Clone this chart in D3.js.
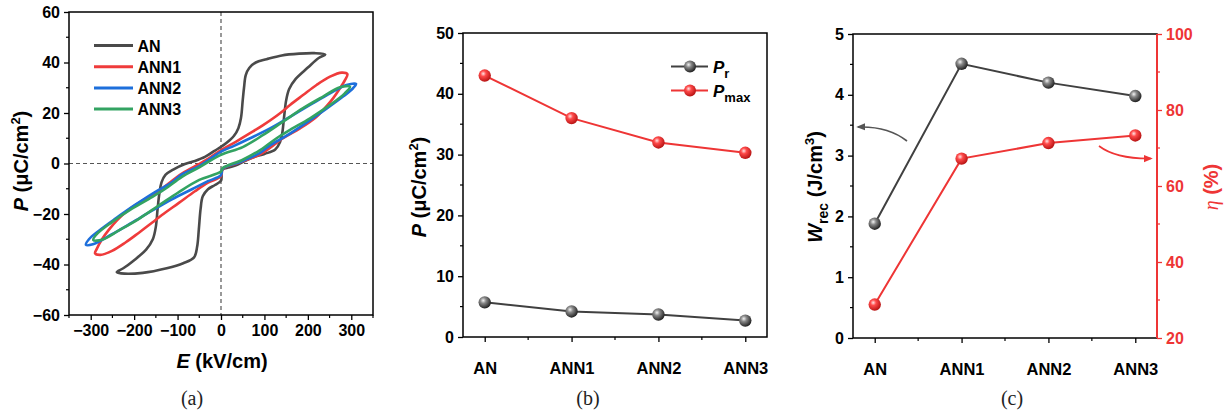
<!DOCTYPE html>
<html>
<head>
<meta charset="utf-8">
<script src="https://cdn.jsdelivr.net/npm/d3@7"></script>
<style>
  body { margin: 0; background: #fff; }
  svg text { font-family: "Liberation Sans", Arial, sans-serif; font-weight: bold; }
  .caption { font-family: "Liberation Serif", "Times New Roman", serif !important; font-weight: normal !important; }
</style>
</head>
<body>
<svg id="fig" width="1227" height="412"></svg>
<script>
// ---- data ----
// panel (a): P-E loops, [E (kV/cm), P (uC/cm2)]
const anLoop = [
  [240,43.2],[215,43.7],[180,43.5],[140,42.8],[105,41.3],[80,40.0],[65,37.8],[57,35],[53,30],[50,25],[46,18],[40,14],[30,11],[13,8.2],[0,6.6],
  [-15,5],[-37,2.6],[-60,1.0],[-83,-0.2],[-110,-2.4],[-128,-4.5],[-137,-7.5],[-142,-12],[-146,-18],[-150,-25],[-157,-30],[-172,-34],[-200,-38.3],[-225,-41.5],[-240,-43.0],
  [-230,-43.5],[-180,-43.3],[-125,-41.5],[-87,-39.5],[-62,-37.2],[-55,-33],[-51,-26],[-47,-18],[-42,-13],[-30,-10.2],[-14,-8.5],[0,-6.8],
  [3,-2.4],[20,-1.5],[40,-0.3],[70,2.2],[100,3.8],[125,5.5],[136,8.5],[141,12],[145,18],[150,25],[157,29.5],[172,33.5],[200,38],[225,41.8]
];
const ann1Loop = [
  [291,35.4],[278,36.0],[251,34.4],[220,31.1],[189,27.1],[159,23.2],[136,19.9],[97,15.2],[67,12.0],[35,8.7],[0,5.3],
  [-40,0.8],[-90,-4.0],[-143,-10.8],[-182,-14.8],[-216,-18.8],[-239,-22.4],[-258,-26.2],[-274,-30.0],[-286,-33.8],[-290,-35.6],
  [-278,-36.2],[-251,-34.6],[-220,-31.3],[-189,-27.4],[-159,-23.5],[-136,-20.4],[-97,-15.6],[-60,-11.0],[-30,-7.6],[0,-5.0],
  [4,-2.2],[40,0.3],[90,3.6],[143,10],[182,13.9],[216,17.9],[239,21.9],[258,25.8],[274,29.8],[286,33.2]
];
const ann2Loop = [
  [311,31.5],[289,31.1],[251,27.8],[205,23.2],[159,18.5],[113,13.9],[67,10.0],[30,7.0],[0,4.7],
  [-50,-1.0],[-90,-4.3],[-113,-7.5],[-151,-11.2],[-197,-16.3],[-243,-21.8],[-281,-26.6],[-304,-30.0],[-311,-32.2],
  [-295,-32.0],[-251,-28.0],[-205,-23.4],[-159,-18.7],[-113,-14.2],[-67,-10.2],[-30,-7.0],[0,-4.6],
  [4,-2.0],[50,1.0],[90,4.2],[113,7.2],[151,11.0],[197,16.2],[243,21.7],[281,26.5],[304,29.8]
];
const ann3Loop = [
  [297,30.4],[274,30.2],[235,26.5],[189,21.9],[143,16.6],[97,11.3],[50,6.5],[0,3.4],
  [-50,-1.5],[-90,-5.3],[-128,-10.0],[-159,-13.3],[-205,-17.9],[-251,-23.2],[-285,-27.8],[-294,-30.3],
  [-274,-30.2],[-235,-26.5],[-189,-21.9],[-143,-16.6],[-97,-11.3],[-50,-6.5],[0,-3.2],
  [4,-1.8],[50,1.5],[90,5.3],[128,10.0],[159,13.3],[205,17.9],[251,23.2],[285,27.8]
];
const loopNames = ["AN", "ANN1", "ANN2", "ANN3"];
const loopColors = ["#4a4a4a", "#ef3b3b", "#1d6fdb", "#33a362"];
const eTicks = [-300, -200, -100, 0, 100, 200, 300];
const pTicks = [-60, -40, -20, 0, 20, 40, 60];

// panels (b) and (c)
const samples = ["AN", "ANN1", "ANN2", "ANN3"];
const pr = [5.7, 4.2, 3.7, 2.7];
const pmax = [43.0, 36.0, 32.0, 30.3];
const wrec = [1.88, 4.51, 4.2, 3.98];
const eta = [28.8, 67.2, 71.3, 73.3];

const svg = d3.select("#fig");
const RED = "#ee3535";
const GRAY = "#404040";

// sphere markers
let defs = svg.append("defs");
function sphereGrad(id, c0, c1, c2) {
    let g = defs.append("radialGradient").attr("id", id)
        .attr("cx", "38%").attr("cy", "35%").attr("r", "65%");
    g.append("stop").attr("offset", "0%").attr("stop-color", c0);
    g.append("stop").attr("offset", "35%").attr("stop-color", c1);
    g.append("stop").attr("offset", "100%").attr("stop-color", c2);
}
sphereGrad("gGray", "#f4f4f4", "#8a8a8a", "#222");
sphereGrad("gRed", "#ffe4e4", "#ff4a4a", "#b81414");

function frame(l, t, r, b) {
    svg.append("rect").attr("x", l).attr("y", t).attr("width", r - l).attr("height", b - t)
        .attr("fill", "none").attr("stroke", "#000").attr("stroke-width", 1.5);
}

function styleAxis(g, color) {
    g.select(".domain").remove();
    g.selectAll("line").attr("stroke", color || "#000").attr("stroke-width", 1.3);
    g.selectAll("text").attr("font-size", 16).attr("fill", color || "#000")
        .attr("font-family", "Liberation Sans, Arial, sans-serif").attr("font-weight", "bold");
}

function minorTicks(vals, pos, horiz, at, len, color) {
    vals.forEach(v => {
        let p = pos(v);
        let ln = svg.append("line").attr("stroke", color || "#000").attr("stroke-width", 1.2);
        if (horiz) ln.attr("x1", p).attr("x2", p).attr("y1", at).attr("y2", at + len);
        else ln.attr("y1", p).attr("y2", p).attr("x1", at).attr("x2", at + len);
    });
}

function vTitle(x, y, parts, color) {
    let t = svg.append("text").attr("transform", `translate(${x},${y}) rotate(-90)`)
        .attr("text-anchor", "middle").attr("font-size", 20).attr("fill", color || "#000");
    parts.forEach(p => {
        let s = t.append("tspan").text(p.t);
        if (p.it) s.attr("font-style", "italic");
        if (p.dy) s.attr("dy", p.dy);
        if (p.fs) s.attr("font-size", p.fs);
        if (p.ff) s.attr("font-family", p.ff).attr("font-weight", "normal");
    });
    return t;
}

function caption(x, txt) {
    svg.append("text").attr("class", "caption").attr("x", x).attr("y", 405)
        .attr("text-anchor", "middle").attr("font-size", 20).attr("fill", "#222").text(txt);
}

// ================= panel (a) =================
function gen_loops() {
    let L = 69, R = 373, T = 12, B = 315;
    let x = d3.scaleLinear().domain([-350, 350]).range([L, R]);
    let y = d3.scaleLinear().domain([-60, 60]).range([B, T]);

    // zero lines
    svg.append("line").attr("x1", x(0)).attr("x2", x(0)).attr("y1", T).attr("y2", B)
        .attr("stroke", "#555").attr("stroke-width", 1.2).attr("stroke-dasharray", "4,3");
    svg.append("line").attr("x1", L).attr("x2", R).attr("y1", y(0)).attr("y2", y(0))
        .attr("stroke", "#555").attr("stroke-width", 1.2).attr("stroke-dasharray", "4,3");

    let line = d3.line().x(d => x(d[0])).y(d => y(d[1]))
        .curve(d3.curveCatmullRomClosed.alpha(0.5));
    [anLoop, ann1Loop, ann2Loop, ann3Loop].forEach((loop, i) => {
        svg.append("path").attr("d", line(loop)).attr("fill", "none")
            .attr("stroke", loopColors[i]).attr("stroke-width", 2.6).attr("stroke-linejoin", "round");
    });

    frame(L, T, R, B);
    let gy = svg.append("g").attr("transform", `translate(${L},0)`)
        .call(d3.axisLeft(y).tickValues(pTicks).tickSize(5).tickPadding(4).tickSizeOuter(0));
    styleAxis(gy);
    minorTicks(d3.range(-50, 60, 20), y, false, L - 3, 3);
    let gx = svg.append("g").attr("transform", `translate(0,${B})`)
        .call(d3.axisBottom(x).tickValues(eTicks).tickSize(5).tickPadding(5).tickSizeOuter(0));
    styleAxis(gx);
    minorTicks([-350, -250, -150, -50, 50, 150, 250, 350], x, true, B, 3);

    // legend
    loopNames.forEach((n, i) => {
        let yy = 45.5 + i * 21.2;
        svg.append("line").attr("x1", 94).attr("x2", 133).attr("y1", yy).attr("y2", yy)
            .attr("stroke", loopColors[i]).attr("stroke-width", 3);
        svg.append("text").attr("x", 137.5).attr("y", yy + 6).attr("font-size", 16).text(n);
    });

    vTitle(28, 161, [{t: "P", it: true}, {t: " (\u03bcC/cm"}, {t: "2", dy: -8, fs: 13}, {t: ")", dy: 8}]);
    let xt = svg.append("text").attr("x", 222).attr("y", 368).attr("text-anchor", "middle").attr("font-size", 20);
    xt.append("tspan").attr("font-style", "italic").text("E");
    xt.append("tspan").text(" (kV/cm)");
    caption(192, "(a)");
}

// category panels share this
function catPanel(L, T, R, B) {
    let x = d3.scalePoint().domain(samples).range([L, R]).padding(0.25);
    frame(L, T, R, B);
    let gx = svg.append("g").attr("transform", `translate(0,${B})`)
        .call(d3.axisBottom(x).tickSize(5).tickPadding(20).tickSizeOuter(0));
    styleAxis(gx);
    gx.selectAll("text").attr("font-size", 16.5);
    minorTicks(samples.slice(0, 3), d => x(d) + x.step() / 2, true, B, 3);
    return x;
}

function drawSeries(x, y, vals, color, grad) {
    let line = d3.line().x((d, i) => x(samples[i])).y(d => y(d));
    svg.append("path").attr("d", line(vals)).attr("fill", "none")
        .attr("stroke", color).attr("stroke-width", 2);
    svg.selectAll(null).data(vals).enter().append("circle")
        .attr("cx", (d, i) => x(samples[i])).attr("cy", d => y(d)).attr("r", 6.2)
        .attr("fill", `url(#${grad})`);
}

// ================= panel (b) =================
function gen_pr_pmax() {
    let L = 463, R = 767, T = 33, B = 337;
    let x = catPanel(L, T, R, B);
    let y = d3.scaleLinear().domain([0, 50]).range([B, T]);
    let gy = svg.append("g").attr("transform", `translate(${L},0)`)
        .call(d3.axisLeft(y).tickValues(d3.range(0, 51, 10)).tickSize(5).tickPadding(4).tickSizeOuter(0));
    styleAxis(gy);
    minorTicks(d3.range(5, 50, 10), y, false, L - 3, 3);

    drawSeries(x, y, pmax, RED, "gRed");
    drawSeries(x, y, pr, GRAY, "gGray");

    // legend
    [["r", GRAY, "gGray", 66.5], ["max", RED, "gRed", 90.5]].forEach(d => {
        svg.append("line").attr("x1", 671).attr("x2", 708).attr("y1", d[3]).attr("y2", d[3])
            .attr("stroke", d[1]).attr("stroke-width", 2);
        svg.append("circle").attr("cx", 690).attr("cy", d[3]).attr("r", 6).attr("fill", `url(#${d[2]})`);
        let t = svg.append("text").attr("x", 713).attr("y", d[3] + 6).attr("font-size", 17);
        t.append("tspan").attr("font-style", "italic").text("P");
        t.append("tspan").attr("dy", 5).attr("font-size", 13).text(d[0]);
    });

    vTitle(426, 187, [{t: "P", it: true}, {t: " (\u03bcC/cm"}, {t: "2", dy: -8, fs: 13}, {t: ")", dy: 8}]);
    caption(588, "(b)");
}

// ================= panel (c) =================
function gen_wrec_eta() {
    let L = 853, R = 1157, T = 34, B = 338;
    let x = catPanel(L, T, R, B);
    let y = d3.scaleLinear().domain([0, 5]).range([B, T]);
    let y2 = d3.scaleLinear().domain([20, 100]).range([B, T]);

    let gy = svg.append("g").attr("transform", `translate(${L},0)`)
        .call(d3.axisLeft(y).tickValues(d3.range(0, 6, 1)).tickFormat(d3.format("d"))
            .tickSize(5).tickPadding(4).tickSizeOuter(0));
    styleAxis(gy);
    minorTicks(d3.range(0.5, 5, 1), y, false, L - 3, 3);

    // red right spine
    svg.append("line").attr("x1", R).attr("x2", R).attr("y1", T).attr("y2", B)
        .attr("stroke", RED).attr("stroke-width", 2);
    let gy2 = svg.append("g").attr("transform", `translate(${R},0)`)
        .call(d3.axisRight(y2).tickValues(d3.range(20, 101, 20)).tickSize(5).tickPadding(4).tickSizeOuter(0));
    styleAxis(gy2, RED);
    minorTicks(d3.range(30, 100, 20), y2, false, R, 3, RED);

    drawSeries(x, y, wrec, GRAY, "gGray");
    drawSeries(x, y2, eta, RED, "gRed");

    // pointer arrows
    defs.append("marker").attr("id", "ahGray").attr("viewBox", "0 0 10 10").attr("refX", 8).attr("refY", 5)
        .attr("markerWidth", 9).attr("markerHeight", 9).attr("markerUnits", "userSpaceOnUse").attr("orient", "auto")
        .append("path").attr("d", "M0,1 L10,5 L0,9 Z").attr("fill", "#555");
    defs.append("marker").attr("id", "ahRed").attr("viewBox", "0 0 10 10").attr("refX", 8).attr("refY", 5)
        .attr("markerWidth", 9).attr("markerHeight", 9).attr("markerUnits", "userSpaceOnUse").attr("orient", "auto")
        .append("path").attr("d", "M0,1 L10,5 L0,9 Z").attr("fill", RED);
    svg.append("path").attr("d", "M907,141 Q888,126 858,127").attr("fill", "none")
        .attr("stroke", "#555").attr("stroke-width", 1.6).attr("marker-end", "url(#ahGray)");
    svg.append("path").attr("d", "M1099,146 Q1116,159 1151,158.5").attr("fill", "none")
        .attr("stroke", RED).attr("stroke-width", 1.6).attr("marker-end", "url(#ahRed)");

    vTitle(822, 187, [{t: "W", it: true}, {t: "rec", dy: 6, fs: 14}, {t: " (J/cm", dy: -6}, {t: "3", dy: -8, fs: 13}, {t: ")", dy: 8}]);
    vTitle(1218, 187, [{t: "\u03b7", it: true, ff: "Liberation Serif, serif"}, {t: " (%)"}], RED);
    caption(1012, "(c)");
}

gen_loops();
gen_pr_pmax();
gen_wrec_eta();
</script>
</body>
</html>
